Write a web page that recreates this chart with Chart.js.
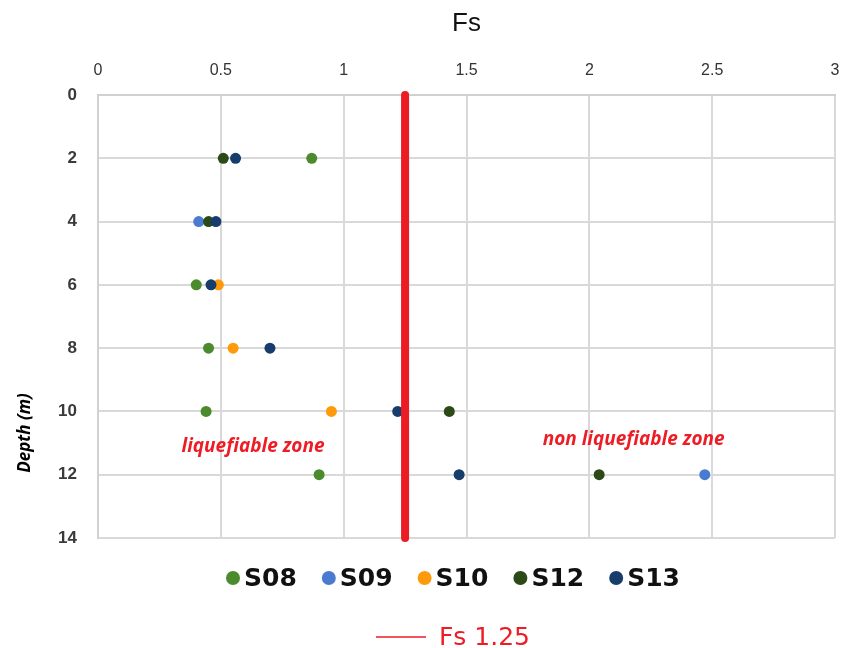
<!DOCTYPE html>
<html>
<head>
<meta charset="utf-8">
<script src="https://cdn.jsdelivr.net/npm/chart.js@4/dist/chart.umd.min.js"></script>
<style>
  html, body { margin: 0; padding: 0; background: #fff; }
</style>
</head>
<body>
<canvas id="chart" width="841" height="648"></canvas>
<script>
// depth of each reading (m)
var depths = [2, 4, 6, 8, 10, 12];

// Fs per borehole, null = no reading at that depth
var s08 = [0.87, null, 0.40, 0.45, 0.44, 0.90];
var s09 = [null, 0.41, null, null, null, 2.47];
var s10 = [null, null, 0.49, 0.55, 0.95, null];
var s12 = [0.51, 0.45, null, null, 1.43, 2.04];
var s13 = [0.56, 0.48, 0.46, 0.70, 1.22, 1.47];

var seriesNames = ['S08', 'S09', 'S10', 'S12', 'S13'];
var seriesValues = [s08, s09, s10, s12, s13];
var seriesColors = ['#4b8b2e', '#4a7bd0', '#ff9a0a', '#2b4a17', '#163d6b'];

// threshold line
var fsLimit = 1.25;
var fsDepthRange = [0, 14];

var xTicks = [0, 0.5, 1, 1.5, 2, 2.5, 3];
var yTicks = [0, 2, 4, 6, 8, 10, 12, 14];

// zone labels (x = Fs, y = depth)
var zoneLabels = ['liquefiable zone', 'non liquefiable zone'];
var zoneX = [0.34, 1.81];
var zoneY = [11.1, 10.9];

var yTitle = 'Depth (m)';

function toPoints(values) {
    var pts = [];
    values.forEach(function(v, i) {
        if (v !== null) pts.push({ x: v, y: depths[i] });
    });
    return pts;
}

var datasets = [];
seriesNames.forEach(function(name, i) {
    datasets.push({
        label: name,
        data: toPoints(seriesValues[i]),
        backgroundColor: seriesColors[i],
        borderColor: seriesColors[i],
        borderWidth: 0,
        pointRadius: 5.5,
        pointHoverRadius: 5.5,
        order: seriesNames.length - i
    });
});

datasets.push({
    label: 'Fs ' + fsLimit,
    data: fsDepthRange.map(function(d) { return { x: fsLimit, y: d }; }),
    showLine: true,
    borderColor: '#ec1c24',
    backgroundColor: '#ec1c24',
    borderWidth: 8,
    borderCapStyle: 'round',
    pointRadius: 0,
    pointHoverRadius: 0,
    clip: false,
    order: 0
});

// zone labels, y title and the two-row legend
var extrasPlugin = {
    id: 'extras',
    afterDraw: function(chart) {
        var ctx = chart.ctx;
        var xs = chart.scales.x, ys = chart.scales.y;
        ctx.save();

        //zone labels
        ctx.fillStyle = '#ee1c25';
        ctx.font = 'italic bold 19px "Open Sans"';
        ctx.textAlign = 'left';
        ctx.textBaseline = 'middle';
        zoneLabels.forEach(function(t, i) {
            ctx.fillText(t, xs.getPixelForValue(zoneX[i]), ys.getPixelForValue(zoneY[i]));
        });

        //y axis title
        ctx.save();
        ctx.translate(25, 433);
        ctx.rotate(-Math.PI / 2);
        ctx.fillStyle = '#000';
        ctx.textAlign = 'center';
        ctx.font = 'italic bold 17px "Open Sans"';
        ctx.fillText(yTitle, 0, 0);
        ctx.restore();

        //legend row 1: the borehole series
        var sets = chart.data.datasets;
        var r = 7, gap = 4, spacing = 25, centerX = 453, rowY = 578;
        ctx.font = 'bold 25px "DejaVu Sans"';
        var total = 0;
        var items = [];
        sets.forEach(function(ds) {
            if (ds.showLine) return;
            var w = ctx.measureText(ds.label).width;
            items.push({ ds: ds, w: w });
            total += 2 * r + gap + w;
        });
        total += spacing * (items.length - 1);
        var x = centerX - total / 2;
        items.forEach(function(it) {
            ctx.fillStyle = it.ds.backgroundColor;
            ctx.beginPath();
            ctx.arc(x + r, rowY, r, 0, Math.PI * 2);
            ctx.fill();
            ctx.fillStyle = '#111';
            ctx.textAlign = 'left';
            ctx.fillText(it.ds.label, x + 2 * r + gap, rowY + 1);
            x += 2 * r + gap + it.w + spacing;
        });

        //legend row 2: threshold line
        var line = sets[sets.length - 1];
        ctx.font = '25px "DejaVu Sans"';
        var lw = ctx.measureText(line.label).width;
        var segLen = 50, segGap = 13, row2Y = 637;
        var x2 = centerX - (segLen + segGap + lw) / 2;
        ctx.strokeStyle = line.borderColor;
        ctx.lineWidth = 1.5;
        ctx.beginPath();
        ctx.moveTo(x2, row2Y);
        ctx.lineTo(x2 + segLen, row2Y);
        ctx.stroke();
        ctx.fillStyle = '#ee1c25';
        ctx.fillText(line.label, x2 + segLen + segGap, row2Y + 1);

        ctx.restore();
    }
};

var chart = new Chart(document.getElementById('chart'), {
    type: 'scatter',
    data: { datasets: datasets },
    plugins: [extrasPlugin],
    options: {
        responsive: false,
        animation: false,
        devicePixelRatio: 1,
        layout: { padding: { left: 8, right: 6, top: 2, bottom: 110 } },
        plugins: {
            legend: { display: false },
            tooltip: { enabled: false }
        },
        scales: {
            x: {
                type: 'linear',
                position: 'top',
                min: xTicks[0],
                max: xTicks[xTicks.length - 1],
                afterBuildTicks: function(scale) {
                    scale.ticks = xTicks.map(function(v) { return { value: v }; });
                },
                afterFit: function(scale) {
                    scale.height = 93;
                    scale.paddingLeft = 0;
                    scale.paddingRight = 0;
                },
                grid: { color: '#d9d9d9', lineWidth: 2, drawTicks: false },
                border: { color: '#d0d0d0', width: 2 },
                ticks: {
                    padding: 15,
                    color: '#333',
                    font: { family: 'Liberation Sans', size: 16 },
                    callback: function(v) { return String(v); }
                },
                title: {
                    display: true,
                    text: 'Fs',
                    color: '#111',
                    font: { family: 'Liberation Sans', size: 26 },
                    padding: { top: 6, bottom: 2 }
                }
            },
            y: {
                type: 'linear',
                reverse: true,
                min: yTicks[0],
                max: yTicks[yTicks.length - 1],
                afterBuildTicks: function(scale) {
                    scale.ticks = yTicks.map(function(v) { return { value: v }; });
                },
                afterFit: function(scale) {
                    scale.width = 90;
                    scale.paddingTop = 0;
                    scale.paddingBottom = 0;
                },
                grid: { color: '#d9d9d9', lineWidth: 2, drawTicks: false },
                border: { color: '#d0d0d0', width: 2 },
                ticks: {
                    padding: 21,
                    color: '#3a3a3a',
                    font: { family: 'Liberation Sans', size: 17, weight: 'bold' },
                    callback: function(v) { return String(v); }
                }
            }
        }
    }
});
</script>
</body>
</html>
